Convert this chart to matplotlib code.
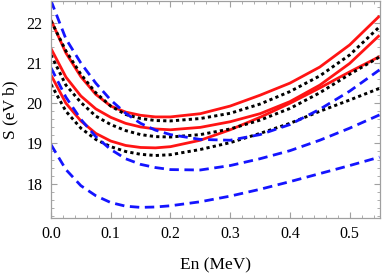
import matplotlib
matplotlib.use("Agg")
import matplotlib.pyplot as plt
from matplotlib.ticker import MultipleLocator

plt.rcParams['font.family'] = ['Liberation Serif', 'DejaVu Serif']

# Neutron energy grid (MeV)
energy = [0.0, 0.025, 0.05, 0.075, 0.1, 0.125, 0.15, 0.175, 0.2,
          0.25, 0.3, 0.35, 0.4, 0.45, 0.5, 0.55]

# Red solid curves
red_1 = [22.07, 21.25, 20.66, 20.22, 19.93, 19.78, 19.70, 19.66, 19.66,
         19.74, 19.93, 20.20, 20.50, 20.90, 21.45, 22.17]
red_2 = [21.36, 20.65, 20.18, 19.86, 19.65, 19.50, 19.41, 19.36, 19.34,
         19.40, 19.54, 19.74, 20.04, 20.45, 20.99, 21.69]
red_3 = [20.70, 20.00, 19.56, 19.25, 19.06, 18.95, 18.90, 18.89, 18.92,
         19.08, 19.34, 19.65, 20.00, 20.38, 20.78, 21.16]

# Black dotted curves
black_1 = [22.05, 21.30, 20.72, 20.26, 19.93, 19.72, 19.62, 19.57, 19.56,
           19.62, 19.75, 19.98, 20.29, 20.68, 21.20, 21.90]
black_2 = [21.20, 20.45, 20.02, 19.68, 19.47, 19.32, 19.22, 19.17, 19.16,
           19.22, 19.36, 19.58, 19.87, 20.26, 20.72, 21.15]
black_3 = [20.47, 19.80, 19.38, 19.10, 18.92, 18.80, 18.73, 18.70, 18.72,
           18.85, 19.02, 19.25, 19.50, 19.80, 20.08, 20.37]

# Blue dashed curves
blue_1 = [22.55, 21.60, 21.00, 20.50, 20.08, 19.75, 19.50, 19.33, 19.22,
          19.10, 19.08, 19.22, 19.47, 19.85, 20.30, 20.83]
blue_2 = [20.88, 20.15, 19.60, 19.17, 18.85, 18.62, 18.48, 18.40, 18.35,
          18.34, 18.45, 18.62, 18.82, 19.08, 19.38, 19.71]
blue_3 = [18.97, 18.35, 17.95, 17.70, 17.53, 17.44, 17.41, 17.42, 17.45,
          17.55, 17.69, 17.86, 18.05, 18.25, 18.45, 18.66]

x_ticks = [0.0, 0.1, 0.2, 0.3, 0.4, 0.5]
x_tick_labels = ["0.0", "0.1", "0.2", "0.3", "0.4", "0.5"]
y_ticks = [18, 19, 20, 21, 22]
y_tick_labels = ["18", "19", "20", "21", "22"]

fig = plt.figure(figsize=(3.82, 2.77), dpi=100)
ax = fig.add_axes([0.1335, 0.213, 0.8615, 0.783])

red_c = '#ff1414'
blue_c = '#1414ff'
for ys in (red_1, red_2, red_3):
    ax.plot(energy, ys, color=red_c, lw=2.0, solid_capstyle='butt')
for ys in (black_1, black_2, black_3):
    ax.plot(energy, ys, color='black', lw=2.1, linestyle=(0, (1.1, 1.1)))
for ys in (blue_1, blue_2, blue_3):
    ax.plot(energy, ys, color=blue_c, lw=2.0, linestyle=(0, (3.4, 2.0)))

ax.set_xlim(0, 0.551)
ax.set_ylim(17.146, 22.54)
ax.set_xticks(x_ticks)
ax.set_xticklabels(x_tick_labels)
ax.set_yticks(y_ticks)
ax.set_yticklabels(y_tick_labels)
ax.xaxis.set_minor_locator(MultipleLocator(0.02))
ax.yaxis.set_minor_locator(MultipleLocator(0.2))

frame_c = '#a0a0a0'
for s in ax.spines.values():
    s.set_color(frame_c)
    s.set_linewidth(0.9)
ax.tick_params(which='both', direction='in', top=True, right=True,
               color=frame_c, labelsize=11.5, labelcolor='black')
ax.tick_params(which='major', length=4.5, width=0.8, pad=6)
ax.tick_params(which='minor', length=2.5, width=0.6)

ax.set_xlabel('En (MeV)', fontsize=12.5, labelpad=11)
ax.set_ylabel('S (eV b)', fontsize=12.5, labelpad=6)

fig.savefig('out.png', dpi=100)
